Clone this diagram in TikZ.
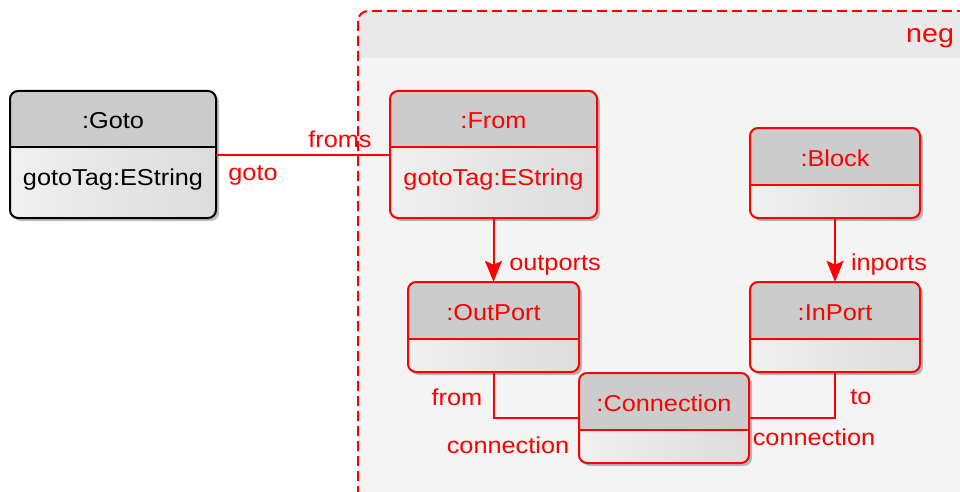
\documentclass[tikz,border=0pt]{standalone}
\usepackage{fontspec}
\setmainfont{Liberation Sans}[FakeStretch=1.1]
\usetikzlibrary{shadows,arrows.meta,fit,calc}
\definecolor{hdr}{HTML}{CCCCCC}
\definecolor{bodyA}{HTML}{F0F0F0}
\definecolor{bodyB}{HTML}{DCDCDC}
\definecolor{pkgHead}{HTML}{E9E9E9}
\definecolor{pkgBody}{HTML}{F4F4F4}
\definecolor{umlred}{HTML}{FF0000}

\tikzset{
  objframe/.style={rounded corners=8pt, inner sep=0pt, left color=bodyA, right color=bodyB,
    drop shadow={shadow xshift=3pt, shadow yshift=-3pt, opacity=0.25, fill=black}},
  link/.style={draw=umlred, line width=2pt},
  arrowlink/.style={link, -{Stealth[length=21pt,width=17pt,inset=4pt]}},
  rolelabel/.style={text=umlred, inner sep=0pt},
}

% object box: name, x1, y1, x2, y2, divider y, title, attribute, colour
\newcommand\objbox[9]{%
  \coordinate (#1-nw) at (#2,#3);
  \coordinate (#1-se) at (#4,#5);
  \node[objframe, fit=(#1-nw)(#1-se)] (#1) {};
  \begin{scope}
    \clip[rounded corners=8pt] (#2,#3) rectangle (#4,#5);
    \fill[hdr] (#2,#3) rectangle (#4,#6);
  \end{scope}
  \draw[#9, line width=2pt, rounded corners=8pt] (#2,#3) rectangle (#4,#5);
  \draw[#9, line width=2pt] (#2,#6) -- (#4,#6);
  \node[text=#9] (#1-title) at ($(#2,#3)!0.5!(#4,#6)+(0,2)$) {#7};
  \node[text=#9] (#1-attr) at ({(#2+#4)/2},{#6+33}) {#8};
}

\begin{document}
\begin{tikzpicture}[x=1pt, y=-1pt, every node/.style={font=\fontsize{23}{27}\selectfont}]
\useasboundingbox (0,0) rectangle (960,492);
\clip (0,0) rectangle (960,492);
\fill[white] (0,0) rectangle (960,492);

% package frame
\begin{scope}
  \clip[rounded corners=10pt] (358,11) rectangle (990,520);
  \fill[pkgBody] (358,11) rectangle (990,520);
  \fill[pkgHead] (358,11) rectangle (990,58);
\end{scope}
\draw[umlred, line width=2pt, dash pattern=on 10pt off 5pt, rounded corners=10pt]
  (358,11) rectangle (990,520);
\node[rolelabel, anchor=west, font=\fontsize{26}{30}\selectfont] (pkg) at (906,38) {neg};

% objects
\objbox{goto}{10}{91}{216}{218}{147}{:Goto}{gotoTag:EString}{black}
\objbox{from}{390}{91}{597}{218}{147}{:From}{gotoTag:EString}{umlred}
\objbox{block}{750}{128}{920}{218}{185}{:Block}{}{umlred}
\objbox{outport}{408}{282}{579}{372}{339}{:OutPort}{}{umlred}
\objbox{inport}{750}{282}{920}{372}{339}{:InPort}{}{umlred}
\objbox{conn}{579}{373}{749}{463}{430}{:Connection}{}{umlred}

% links
\draw[link] (goto.east) -- (from.west);
\node[rolelabel] at (340,139) {froms};
\node[rolelabel] at (253,175) {goto};

\draw[arrowlink] (from.south) -- (outport.north);
\node[rolelabel] at (555,265) {outports};

\draw[arrowlink] (block.south) -- (inport.north);
\node[rolelabel] at (889,265) {inports};

\draw[link] (outport.south) |- (conn.west);
\node[rolelabel] at (457,397) {from};
\node[rolelabel] at (508,445) {connection};

\draw[link] (inport.south) |- (conn.east);
\node[rolelabel] at (861,397) {to};
\node[rolelabel] at (814,437) {connection};
\end{tikzpicture}
\end{document}
